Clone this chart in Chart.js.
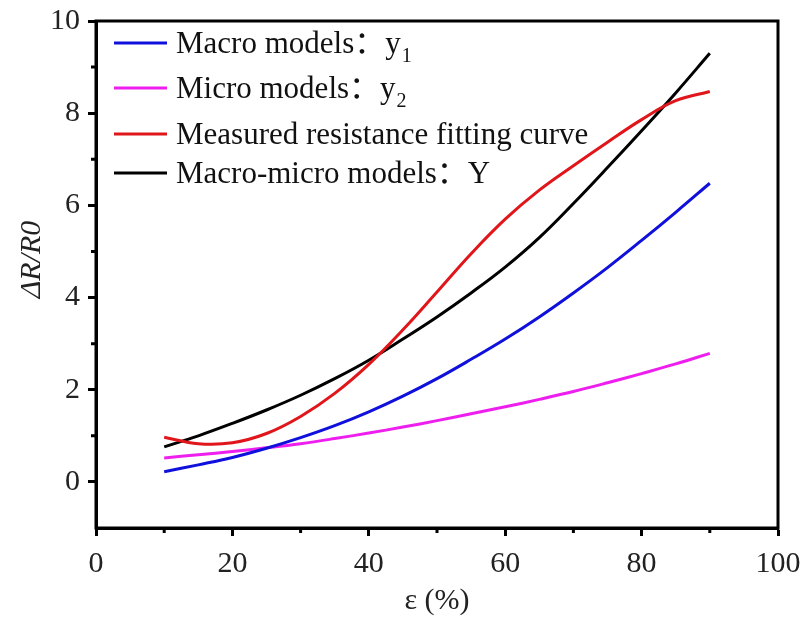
<!DOCTYPE html>
<html>
<head>
<meta charset="utf-8">
<script src="https://cdn.jsdelivr.net/npm/chart.js@4.4.0/dist/chart.umd.min.js"></script>
<style>
  html, body { margin: 0; padding: 0; background: #fff; }
</style>
</head>
<body>
<canvas id="myChart" width="806" height="625"></canvas>
<script>
// deformacao (%)
const strain = [10, 15, 20, 25, 30, 35, 40, 45, 50, 55, 60, 65, 70, 75, 80, 85, 90];

// curvas
const macroY1 = [0.22, 0.37, 0.53, 0.73, 0.96, 1.22, 1.52, 1.86, 2.24, 2.66, 3.1, 3.58, 4.1, 4.65, 5.24, 5.85, 6.48];
const microY2 = [0.52, 0.59, 0.66, 0.74, 0.83, 0.94, 1.06, 1.19, 1.33, 1.48, 1.63, 1.79, 1.96, 2.15, 2.35, 2.56, 2.79];
const measured = [0.97, 0.83, 0.85, 1.05, 1.42, 1.92, 2.55, 3.3, 4.12, 4.95, 5.7, 6.33, 6.86, 7.37, 7.86, 8.27, 8.47];
const macroMicroY = [0.76, 1.0, 1.27, 1.56, 1.88, 2.24, 2.64, 3.1, 3.58, 4.1, 4.66, 5.3, 6.04, 6.82, 7.62, 8.44, 9.3];

const seriesLabels = ['Macro models：y₁', 'Micro models：y₂', 'Measured resistance fitting curve', 'Macro-micro models：Y'];

// ticks
const xTicks = [0, 20, 40, 60, 80, 100];
const xMinor = [10, 30, 50, 70, 90];
const yTicks = [0, 2, 4, 6, 8, 10];
const yMinor = [1, 3, 5, 7, 9];

const serif = '"Liberation Serif", "Noto Sans CJK SC", "Times New Roman", serif';

function pontos(valores) {
  return strain.map((x, i) => ({ x: x, y: valores[i] }));
}

function serie(label, valores, cor) {
  return {
    label: label,
    data: pontos(valores),
    borderColor: cor,
    backgroundColor: cor,
    borderWidth: 3,
    pointRadius: 0,
    fill: false,
    tension: 0.4
  };
}

// moldura + ticks menores
const moldura = {
  id: 'moldura',
  afterDraw(chart) {
    const ctx = chart.ctx;
    const a = chart.chartArea;
    const sx = chart.scales.x, sy = chart.scales.y;
    ctx.save();
    ctx.strokeStyle = '#000';
    ctx.lineWidth = 3;
    ctx.strokeRect(a.left, a.top, a.right - a.left, a.bottom - a.top);
    ctx.beginPath();
    xMinor.forEach(v => {
      const px = sx.getPixelForValue(v);
      ctx.moveTo(px, a.bottom);
      ctx.lineTo(px, a.bottom + 5);
    });
    yMinor.forEach(v => {
      const py = sy.getPixelForValue(v);
      ctx.moveTo(a.left, py);
      ctx.lineTo(a.left - 5, py);
    });
    ctx.stroke();
    ctx.restore();
  }
};

// legenda dentro da area do grafico
const legendaInterna = {
  id: 'legendaInterna',
  afterDraw(chart) {
    const ctx = chart.ctx;
    const a = chart.chartArea;
    const linhas = [22, 67, 113, 152];
    chart.data.datasets.forEach((ds, i) => {
      const y = a.top + linhas[i];
      ctx.save();
      ctx.strokeStyle = ds.borderColor;
      ctx.lineWidth = 3;
      ctx.beginPath();
      ctx.moveTo(a.left + 18, y);
      ctx.lineTo(a.left + 71, y);
      ctx.stroke();

      ctx.fillStyle = '#111';
      ctx.textBaseline = 'alphabetic';
      ctx.textAlign = 'left';
      let texto = ds.label;
      let sub = null;
      if (texto.endsWith('₁')) { sub = '1'; texto = texto.slice(0, -1); }
      if (texto.endsWith('₂')) { sub = '2'; texto = texto.slice(0, -1); }
      ctx.font = '31px ' + serif;
      const x0 = a.left + 80;
      ctx.fillText(texto, x0, y + 10);
      if (sub) {
        const w = ctx.measureText(texto).width;
        ctx.font = '20px ' + serif;
        ctx.fillText(sub, x0 + w + 1, y + 19);
      }
      ctx.restore();
    });
  }
};

const dados = {
  datasets: [
    serie(seriesLabels[0], macroY1, '#1010dd'),
    serie(seriesLabels[1], microY2, '#ee1eee'),
    serie(seriesLabels[2], measured, '#e0161b'),
    serie(seriesLabels[3], macroMicroY, '#000000')
  ]
};

const config = {
  type: 'line',
  data: dados,
  plugins: [moldura, legendaInterna],
  options: {
    responsive: false,
    animation: false,
    devicePixelRatio: 1,
    layout: { padding: { top: 21, right: 28, left: 0, bottom: 0 } },
    plugins: {
      legend: { display: false },
      tooltip: { enabled: false }
    },
    scales: {
      x: {
        type: 'linear',
        min: 0,
        max: 100,
        afterBuildTicks: s => { s.ticks = xTicks.map(v => ({ value: v })); },
        afterFit: s => { s.height = 97; s.paddingLeft = 0; s.paddingRight = 0; },
        ticks: { font: { family: serif, size: 30 }, color: '#222', padding: 10, maxRotation: 0 },
        grid: { drawOnChartArea: false, drawTicks: true, tickLength: 8, tickWidth: 3, tickColor: '#000' },
        border: { color: '#000', width: 3 },
        title: { display: true, text: 'ε (%)', font: { family: serif, size: 30 }, color: '#222', padding: { top: 0, bottom: 6 } }
      },
      y: {
        type: 'linear',
        min: -1,
        max: 10,
        afterBuildTicks: s => { s.ticks = yTicks.map(v => ({ value: v })); },
        afterFit: s => { s.width = 96; s.paddingTop = 0; s.paddingBottom = 0; },
        ticks: { font: { family: serif, size: 30 }, color: '#222', padding: 8 },
        grid: { drawOnChartArea: false, drawTicks: true, tickLength: 8, tickWidth: 3, tickColor: '#000' },
        border: { color: '#000', width: 3 },
        title: { display: true, text: '    ΔR/R0', font: { family: serif, size: 30, style: 'italic' }, color: '#222', padding: { top: 14, bottom: 0 } }
      }
    }
  }
};

myChart = new Chart(document.getElementById('myChart'), config);
</script>
</body>
</html>
